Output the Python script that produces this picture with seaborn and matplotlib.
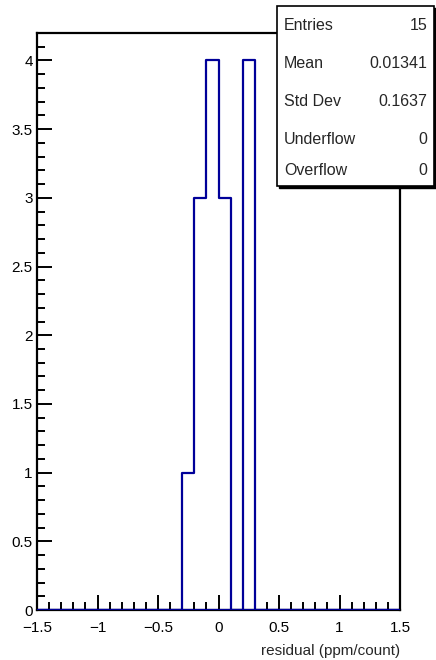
import numpy as np
import pandas as pd
import matplotlib
matplotlib.use("Agg")
import matplotlib.pyplot as plt
from matplotlib.ticker import MultipleLocator, FuncFormatter
from matplotlib.patches import Rectangle
import seaborn as sns

# histogram: 30 bins from -1.5 to 1.5, counts
bin_edges = np.linspace(-1.5, 1.5, 31)
bin_centers = 0.5 * (bin_edges[:-1] + bin_edges[1:])
counts = np.zeros(30)
counts[12:18] = [1, 3, 4, 3, 0, 4]   # bins -0.3 .. 0.3

stat_names = ["Entries", "Mean", "Std Dev", "Underflow", "Overflow"]
stat_values = ["15", "0.01341", "0.1637", "0", "0"]
x_label = "residual (ppm/count)"

sns.set_style("ticks")
plt.rcParams["font.family"] = ["Liberation Sans", "DejaVu Sans"]
plt.rcParams["axes.unicode_minus"] = True

fig = plt.figure(figsize=(4.36, 6.6), dpi=100)
ax = fig.add_axes([37 / 436, 1 - 610 / 660, 363 / 436, 577 / 660])

df = pd.DataFrame({"x": bin_centers, "w": counts})
sns.histplot(data=df, x="x", weights="w", bins=list(bin_edges), element="step",
             fill=False, color="#000099", linewidth=1.6, ax=ax)
# ROOT draws the outline along the baseline too
ax.axhline(0, color="#000099", linewidth=1.6, zorder=3)

ax.set_xlim(-1.5, 1.5)
ax.set_ylim(0, 4.2)
ax.set_ylabel("")
ax.set_xlabel("")

for sp in ax.spines.values():
    sp.set_linewidth(1.6)
    sp.set_color("black")

ax.xaxis.set_major_locator(MultipleLocator(0.5))
ax.xaxis.set_minor_locator(MultipleLocator(0.1))
ax.yaxis.set_major_locator(MultipleLocator(0.5))
ax.yaxis.set_minor_locator(MultipleLocator(0.1))


def fmt(v, pos):
    s = ("%g" % v).replace("-", "\u2212")
    return s


ax.xaxis.set_major_formatter(FuncFormatter(fmt))
ax.yaxis.set_major_formatter(FuncFormatter(fmt))
ax.tick_params(which="both", direction="in", top=False, right=False,
               labelsize=11, width=1.4, colors="black")
ax.tick_params(which="major", length=11)
ax.tick_params(which="minor", length=6)
ax.tick_params(axis="x", which="major", pad=8)
ax.tick_params(axis="y", which="major", pad=3)

fig.text(400 / 436, 1 - 651 / 660, x_label, ha="right", va="center",
         fontsize=11)

# stats box with shadow
bx0, by0, bx1, by1 = 277, 6, 434, 186
fig.patches.append(Rectangle((bx0 / 436 + 2 / 436, 1 - (by1 + 2) / 660),
                             (bx1 - bx0) / 436, (by1 - by0) / 660,
                             transform=fig.transFigure, facecolor="black",
                             edgecolor="black", zorder=5))
fig.patches.append(Rectangle((bx0 / 436, 1 - by1 / 660),
                             (bx1 - bx0) / 436, (by1 - by0) / 660,
                             transform=fig.transFigure, facecolor="white",
                             edgecolor="black", linewidth=1.2, zorder=6))
row_y = [25, 63, 101, 139, 171]
for name, val, yy in zip(stat_names, stat_values, row_y):
    fig.text(284 / 436, 1 - yy / 660, name, ha="left", va="center",
             fontsize=11.5, zorder=7)
    fig.text(427 / 436, 1 - yy / 660, val, ha="right", va="center",
             fontsize=11.5, zorder=7)

fig.savefig("out.png", dpi=100)
